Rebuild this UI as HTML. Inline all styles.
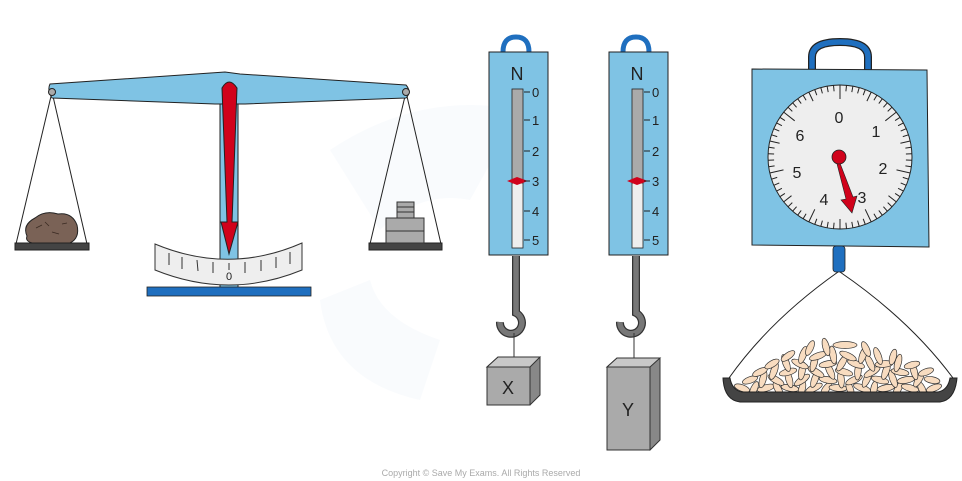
<!DOCTYPE html>
<html><head><meta charset="utf-8"><style>
html,body{margin:0;padding:0;background:#fff;}
svg{display:block;}
text{font-family:"Liberation Sans",sans-serif;}
</style></head><body>
<svg width="962" height="481" viewBox="0 0 962 481" xmlns="http://www.w3.org/2000/svg">
<path d="M330 150 Q420 90 520 110 L470 200 Q420 190 380 230 Z" fill="#f9fbfd"/>
<path d="M320 300 Q330 380 420 400 L440 340 Q380 320 370 280 Z" fill="#f9fbfd"/>

<g stroke="#222" stroke-width="1" fill="none">
<line x1="52" y1="92" x2="16" y2="244"/><line x1="52" y1="92" x2="87" y2="244"/>
<line x1="406" y1="92" x2="370" y2="244"/><line x1="406" y1="92" x2="441" y2="244"/>
</g>
<rect x="220" y="95" width="18" height="193" fill="#7fc3e4" stroke="#222" stroke-width="1"/>
<path d="M50 84 Q47 90 52 98 L215 104 L245 104 L406 98 Q412 92 406 85 L240 74 L225 72 Z" fill="#7fc3e4" stroke="#222" stroke-width="1"/>
<circle cx="52" cy="92" r="3.5" fill="#aaa" stroke="#222"/>
<circle cx="406" cy="92" r="3.5" fill="#aaa" stroke="#222"/>
<path d="M155 244 Q229 275 302 243 L302 270 Q229 300 155 270 Z" fill="#eee" stroke="#333" stroke-width="1"/>
<g stroke="#333" stroke-width="1">
<line x1="169" y1="253" x2="169" y2="265"/><line x1="182" y1="257" x2="182" y2="269"/><line x1="197" y1="260" x2="198" y2="271"/>
<line x1="213" y1="262" x2="213" y2="273"/><line x1="229" y1="263" x2="229" y2="270"/><line x1="245" y1="262" x2="245" y2="273"/>
<line x1="261" y1="260" x2="261" y2="271"/><line x1="276" y1="257" x2="276" y2="268"/><line x1="290" y1="252" x2="290" y2="264"/>
</g>
<text x="229" y="280" font-size="11" text-anchor="middle" fill="#222">0</text>
<rect x="147" y="287" width="164" height="9" fill="#1f6fbf" stroke="#222" stroke-width="0.8"/>
<path d="M222 88 Q229 76 237 88 L232 222 L238 222 L229 254 L221 222 L227 222 Z" fill="#d0021b" stroke="#222" stroke-width="1"/>
<rect x="15" y="243" width="74" height="7" fill="#444" stroke="#222"/>
<rect x="369" y="243" width="73" height="7" fill="#444" stroke="#222"/>
<path d="M27 236 Q22 225 35 218 Q45 210 58 214 Q72 212 77 225 Q80 238 70 243 L32 243 Q25 241 27 236 Z" fill="#7a6256" stroke="#222" stroke-width="1"/>
<g stroke="#3a2a22" stroke-width="0.8" fill="none"><path d="M36 228 l6 -3"/><path d="M52 232 l7 2"/><path d="M45 222 l4 4"/><path d="M62 224 l5 -1"/></g>
<rect x="397" y="202" width="17" height="16" fill="#aaa" stroke="#333"/>
<line x1="397" y1="207" x2="414" y2="207" stroke="#333"/><line x1="397" y1="212" x2="414" y2="212" stroke="#333"/>
<rect x="386" y="218" width="38" height="25" fill="#aaa" stroke="#333"/>
<line x1="386" y1="231" x2="424" y2="231" stroke="#333"/>

<g>
<path d="M503 52 Q503 37 516 37 Q529 37 529 52" fill="none" stroke="#1f6fbf" stroke-width="5"/>
<rect x="489" y="52" width="59" height="203" fill="#7fc3e4" stroke="#222" stroke-width="1"/>
<text x="517" y="80" font-size="18" text-anchor="middle" fill="#222">N</text>
<rect x="512" y="89" width="11" height="94" fill="#aaa" stroke="#222" stroke-width="0.8"/>
<rect x="512" y="183" width="11" height="65" fill="#eee" stroke="#222" stroke-width="0.8"/>
<path d="M507 181 L517 177 L528 181 L517 185 Z" fill="#d0021b"/>
<g stroke="#222" stroke-width="1"><line x1="524" y1="92" x2="530" y2="92"/><line x1="524" y1="120" x2="530" y2="120"/><line x1="524" y1="151" x2="530" y2="151"/><line x1="524" y1="181" x2="530" y2="181"/><line x1="524" y1="211" x2="530" y2="211"/><line x1="524" y1="240" x2="530" y2="240"/></g>
<g font-size="13" fill="#222"><text x="532" y="97">0</text><text x="532" y="125">1</text><text x="532" y="156">2</text><text x="532" y="186">3</text><text x="532" y="216">4</text><text x="532" y="245">5</text></g>
<path d="M516 256 L516 313 A11 11 0 1 1 500 322" fill="none" stroke="#333" stroke-width="8"/>
<path d="M516 256 L516 313 A11 11 0 1 1 500 322" fill="none" stroke="#777" stroke-width="5.5"/>
<line x1="514" y1="333" x2="514" y2="362" stroke="#333" stroke-width="1"/>
</g>
<g transform="translate(120,0)">
<path d="M503 52 Q503 37 516 37 Q529 37 529 52" fill="none" stroke="#1f6fbf" stroke-width="5"/>
<rect x="489" y="52" width="59" height="203" fill="#7fc3e4" stroke="#222" stroke-width="1"/>
<text x="517" y="80" font-size="18" text-anchor="middle" fill="#222">N</text>
<rect x="512" y="89" width="11" height="94" fill="#aaa" stroke="#222" stroke-width="0.8"/>
<rect x="512" y="183" width="11" height="65" fill="#eee" stroke="#222" stroke-width="0.8"/>
<path d="M507 181 L517 177 L528 181 L517 185 Z" fill="#d0021b"/>
<g stroke="#222" stroke-width="1"><line x1="524" y1="92" x2="530" y2="92"/><line x1="524" y1="120" x2="530" y2="120"/><line x1="524" y1="151" x2="530" y2="151"/><line x1="524" y1="181" x2="530" y2="181"/><line x1="524" y1="211" x2="530" y2="211"/><line x1="524" y1="240" x2="530" y2="240"/></g>
<g font-size="13" fill="#222"><text x="532" y="97">0</text><text x="532" y="125">1</text><text x="532" y="156">2</text><text x="532" y="186">3</text><text x="532" y="216">4</text><text x="532" y="245">5</text></g>
<path d="M516 256 L516 313 A11 11 0 1 1 500 322" fill="none" stroke="#333" stroke-width="8"/>
<path d="M516 256 L516 313 A11 11 0 1 1 500 322" fill="none" stroke="#777" stroke-width="5.5"/>
<line x1="514" y1="333" x2="514" y2="362" stroke="#333" stroke-width="1"/>
</g>
<path d="M487 367 L498 357 L540 357 L540 395 L530 405 Z" fill="#888" stroke="#333"/>
<path d="M487 367 L498 357 L540 357 L530 367 Z" fill="#c8c8c8" stroke="#333"/>
<rect x="487" y="367" width="43" height="38" fill="#aaa" stroke="#333"/>
<text x="508" y="394" font-size="18" text-anchor="middle" fill="#222">X</text>
<path d="M607 367 L617 358 L660 358 L660 440 L650 450 Z" fill="#888" stroke="#333"/>
<path d="M607 367 L617 358 L660 358 L650 367 Z" fill="#c8c8c8" stroke="#333"/>
<rect x="607" y="367" width="43" height="83" fill="#aaa" stroke="#333"/>
<text x="628" y="416" font-size="18" text-anchor="middle" fill="#222">Y</text>

<path d="M812 70 L812 57 Q812 42 840 42 Q868 42 868 57 L868 70" fill="none" stroke="#222" stroke-width="8"/>
<path d="M812 70 L812 57 Q812 42 840 42 Q868 42 868 57 L868 70" fill="none" stroke="#1f6fbf" stroke-width="5.5"/>
<path d="M752 69 L927 70 L929 247 L752 245 Z" fill="#7fc3e4" stroke="#222" stroke-width="1"/>
<circle cx="840" cy="157" r="72" fill="#eee" stroke="#222" stroke-width="1"/>
<g id="ticks" stroke="#222" stroke-width="1"></g>
<g font-size="16" fill="#222" text-anchor="middle">
<text x="839" y="123">0</text><text x="876" y="137">1</text><text x="883" y="174">2</text>
<text x="862" y="203">3</text><text x="824" y="205">4</text><text x="797" y="178">5</text><text x="800" y="141">6</text>
</g>
<path d="M838 158 L853 197 L857 196 L852 213 L841 200 L846 199 L836 160 Z" fill="#d0021b" stroke="#222" stroke-width="0.6"/>
<circle cx="839" cy="157" r="7" fill="#d0021b" stroke="#222" stroke-width="0.8"/>
<rect x="833" y="246" width="12" height="26" rx="3" fill="#1f6fbf" stroke="#222" stroke-width="0.8"/>
<path d="M838 272 Q770 320 729 378" fill="none" stroke="#222" stroke-width="1"/>
<path d="M840 272 Q910 320 953 378" fill="none" stroke="#222" stroke-width="1"/>
<g fill="#f8dcc0" stroke="#333" stroke-width="0.7">
<ellipse cx="742" cy="388" rx="8" ry="3.3" transform="rotate(20 742 388)"/><ellipse cx="754" cy="389" rx="3.3" ry="8" transform="rotate(25 754 389)"/><ellipse cx="766" cy="388" rx="9" ry="3.3" transform="rotate(-15 766 388)"/><ellipse cx="778" cy="389" rx="3.3" ry="8" transform="rotate(-30 778 389)"/><ellipse cx="790" cy="388" rx="9" ry="3.3" transform="rotate(10 790 388)"/><ellipse cx="802" cy="389" rx="3.3" ry="8" transform="rotate(15 802 389)"/><ellipse cx="814" cy="388" rx="9" ry="3.3" transform="rotate(-25 814 388)"/><ellipse cx="826" cy="389" rx="3.3" ry="8" transform="rotate(35 826 389)"/><ellipse cx="838" cy="388" rx="9" ry="3.3" transform="rotate(5 838 388)"/><ellipse cx="850" cy="389" rx="3.3" ry="8" transform="rotate(-20 850 389)"/><ellipse cx="862" cy="388" rx="9" ry="3.3" transform="rotate(20 862 388)"/><ellipse cx="874" cy="389" rx="3.3" ry="8" transform="rotate(10 874 389)"/><ellipse cx="886" cy="388" rx="9" ry="3.3" transform="rotate(-10 886 388)"/><ellipse cx="898" cy="389" rx="3.3" ry="8" transform="rotate(30 898 389)"/><ellipse cx="910" cy="388" rx="9" ry="3.3" transform="rotate(15 910 388)"/><ellipse cx="922" cy="389" rx="3.3" ry="8" transform="rotate(-25 922 389)"/><ellipse cx="934" cy="388" rx="8" ry="3.3" transform="rotate(-20 934 388)"/>
<ellipse cx="750" cy="380" rx="8" ry="3.3" transform="rotate(-20 750 380)"/><ellipse cx="763" cy="379" rx="3.3" ry="9" transform="rotate(15 763 379)"/><ellipse cx="776" cy="380" rx="9" ry="3.3" transform="rotate(30 776 380)"/><ellipse cx="789" cy="379" rx="3.3" ry="9" transform="rotate(-15 789 379)"/><ellipse cx="802" cy="380" rx="9" ry="3.3" transform="rotate(-35 802 380)"/><ellipse cx="815" cy="379" rx="3.3" ry="9" transform="rotate(20 815 379)"/><ellipse cx="828" cy="380" rx="9" ry="3.3" transform="rotate(10 828 380)"/><ellipse cx="841" cy="379" rx="3.3" ry="9" transform="rotate(-5 841 379)"/><ellipse cx="854" cy="380" rx="9" ry="3.3" transform="rotate(-25 854 380)"/><ellipse cx="867" cy="379" rx="3.3" ry="9" transform="rotate(25 867 379)"/><ellipse cx="880" cy="380" rx="9" ry="3.3" transform="rotate(15 880 380)"/><ellipse cx="893" cy="379" rx="3.3" ry="9" transform="rotate(-20 893 379)"/><ellipse cx="906" cy="380" rx="9" ry="3.3" transform="rotate(-10 906 380)"/><ellipse cx="919" cy="379" rx="3.3" ry="9" transform="rotate(30 919 379)"/><ellipse cx="932" cy="380" rx="8" ry="3.3" transform="rotate(10 932 380)"/>
<ellipse cx="760" cy="372" rx="8" ry="3.3" transform="rotate(-25 760 372)"/><ellipse cx="774" cy="371" rx="3.3" ry="9" transform="rotate(20 774 371)"/><ellipse cx="788" cy="372" rx="9" ry="3.3" transform="rotate(-15 788 372)"/><ellipse cx="802" cy="371" rx="3.3" ry="9" transform="rotate(10 802 371)"/><ellipse cx="816" cy="372" rx="9" ry="3.3" transform="rotate(30 816 372)"/><ellipse cx="830" cy="371" rx="3.3" ry="9" transform="rotate(-25 830 371)"/><ellipse cx="844" cy="372" rx="9" ry="3.3" transform="rotate(15 844 372)"/><ellipse cx="858" cy="371" rx="3.3" ry="9" transform="rotate(5 858 371)"/><ellipse cx="872" cy="372" rx="9" ry="3.3" transform="rotate(-30 872 372)"/><ellipse cx="886" cy="371" rx="3.3" ry="9" transform="rotate(20 886 371)"/><ellipse cx="900" cy="372" rx="9" ry="3.3" transform="rotate(10 900 372)"/><ellipse cx="914" cy="371" rx="3.3" ry="9" transform="rotate(-15 914 371)"/><ellipse cx="926" cy="372" rx="8" ry="3.3" transform="rotate(-20 926 372)"/>
<ellipse cx="772" cy="364" rx="8" ry="3.3" transform="rotate(-30 772 364)"/><ellipse cx="786" cy="363" rx="3.3" ry="9" transform="rotate(-20 786 363)"/><ellipse cx="800" cy="364" rx="9" ry="3.3" transform="rotate(25 800 364)"/><ellipse cx="814" cy="363" rx="3.3" ry="9" transform="rotate(15 814 363)"/><ellipse cx="828" cy="364" rx="9" ry="3.3" transform="rotate(-10 828 364)"/><ellipse cx="842" cy="363" rx="3.3" ry="9" transform="rotate(30 842 363)"/><ellipse cx="856" cy="364" rx="9" ry="3.3" transform="rotate(20 856 364)"/><ellipse cx="870" cy="363" rx="3.3" ry="9" transform="rotate(-25 870 363)"/><ellipse cx="884" cy="364" rx="9" ry="3.3" transform="rotate(-5 884 364)"/><ellipse cx="898" cy="363" rx="3.3" ry="9" transform="rotate(15 898 363)"/><ellipse cx="912" cy="365" rx="8" ry="3.3" transform="rotate(-15 912 365)"/>
<ellipse cx="788" cy="356" rx="8" ry="3.3" transform="rotate(-35 788 356)"/><ellipse cx="803" cy="355" rx="3.3" ry="9" transform="rotate(20 803 355)"/><ellipse cx="818" cy="356" rx="9" ry="3.3" transform="rotate(-20 818 356)"/><ellipse cx="833" cy="355" rx="3.3" ry="9" transform="rotate(-10 833 355)"/><ellipse cx="848" cy="356" rx="9" ry="3.3" transform="rotate(25 848 356)"/><ellipse cx="863" cy="355" rx="3.3" ry="9" transform="rotate(20 863 355)"/><ellipse cx="878" cy="356" rx="3.3" ry="9" transform="rotate(-20 878 356)"/><ellipse cx="893" cy="357" rx="3.3" ry="8" transform="rotate(15 893 357)"/>
<ellipse cx="810" cy="348" rx="3.3" ry="8" transform="rotate(25 810 348)"/><ellipse cx="826" cy="347" rx="3.3" ry="9" transform="rotate(-15 826 347)"/><ellipse cx="845" cy="345" rx="12" ry="3.5"/><ellipse cx="866" cy="349" rx="3.3" ry="8" transform="rotate(-25 866 349)"/>
</g>
<path d="M723 378 L730 378 Q732 390 742 392 L938 392 Q948 390 950 378 L957 378 Q955 400 940 402 L740 402 Q724 400 723 378 Z" fill="#444" stroke="#222" stroke-width="1"/>

<text x="481" y="476" font-size="9" text-anchor="middle" fill="#aaa">Copyright © Save My Exams. All Rights Reserved</text>
</svg>
<script>
var g=document.getElementById('ticks'),s='';
for(var i=0;i<70;i++){var a=i/70*2*Math.PI-Math.PI/2,L=(i%10==0)?14:(i%5==0?10:6);
var x1=840+72*Math.cos(a),y1=157+72*Math.sin(a),x2=840+(72-L)*Math.cos(a),y2=157+(72-L)*Math.sin(a);
s+='<line x1="'+x1.toFixed(1)+'" y1="'+y1.toFixed(1)+'" x2="'+x2.toFixed(1)+'" y2="'+y2.toFixed(1)+'"/>';}
g.innerHTML=s;
</script>
</body></html>
